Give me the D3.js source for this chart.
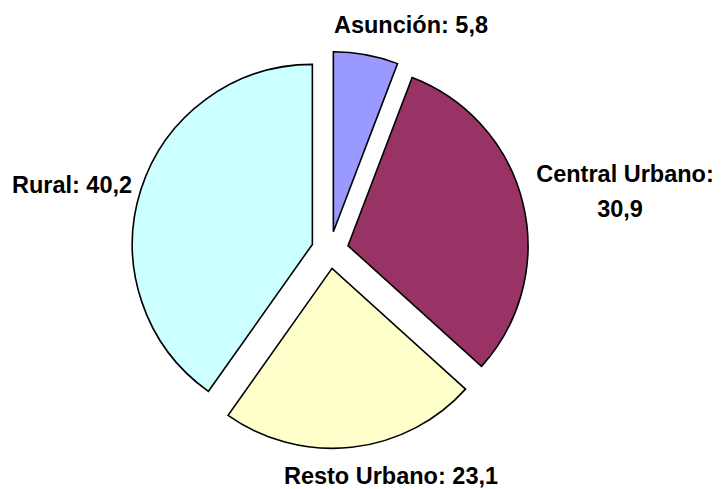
<!DOCTYPE html>
<html>
<head>
<meta charset="utf-8">
<script src="https://cdn.jsdelivr.net/npm/d3@7"></script>
<style>
    body { margin: 0; background: #fff; }
    svg text { font-family: Arial, "Liberation Sans", sans-serif; font-weight: bold; font-size: 23.5px; fill: #000; }
</style>
</head>
<body>
<svg id="chart" width="722" height="489"></svg>
<script>
"use strict";

const categories = ["Asunción", "Central Urbano", "Resto Urbano", "Rural"];
const values = [5.8, 30.9, 23.1, 40.2];
const colors = ["#9999FF", "#993366", "#FFFFCC", "#CCFFFF"];

// label placement (layout only): anchor point and line breaks
const labelLayout = [
    {x: 411, y: 33, lines: 1},
    {x: 625, y: 182, lines: 2},
    {x: 391, y: 484, lines: 1},
    {x: 72, y: 193, lines: 1}
];

function drawPie() {
    const svg = d3.select("#chart");
    const cx = 330, cy = 250;
    const radius = 180;
    const explode = 18.5;
    const fmt = function (v) {
        return String(v.toFixed(1)).replace(".", ",");
    };

    const data = categories.map(function (c, i) {
        return {name: c, value: values[i], color: colors[i], layout: labelLayout[i]};
    });

    const pie = d3.pie()
        .sort(null)
        .value(function (d) { return d.value; });
    const arc = d3.arc().innerRadius(0).outerRadius(radius);

    const g = svg.append("g").attr("transform", "translate(" + cx + "," + cy + ")");
    g.selectAll("path")
        .data(pie(data))
        .enter()
        .append("path")
        .attr("transform", function (d) {
            const mid = (d.startAngle + d.endAngle) / 2;
            return "translate(" + (Math.sin(mid) * explode) + "," + (-Math.cos(mid) * explode) + ")";
        })
        .attr("d", arc)
        .attr("fill", function (d) { return d.data.color; })
        .attr("stroke", "#000")
        .attr("stroke-width", 1.6)
        .attr("stroke-linejoin", "miter");

    data.forEach(function (d) {
        const t = svg.append("text")
            .attr("text-anchor", "middle")
            .attr("x", d.layout.x)
            .attr("y", d.layout.y);
        if (d.layout.lines === 2) {
            t.append("tspan").attr("x", d.layout.x).text(d.name + ":");
            t.append("tspan").attr("x", d.layout.x - 5).attr("dy", 35).text(fmt(d.value));
        } else {
            t.text(d.name + ": " + fmt(d.value));
        }
    });
}

drawPie();
</script>
</body>
</html>
